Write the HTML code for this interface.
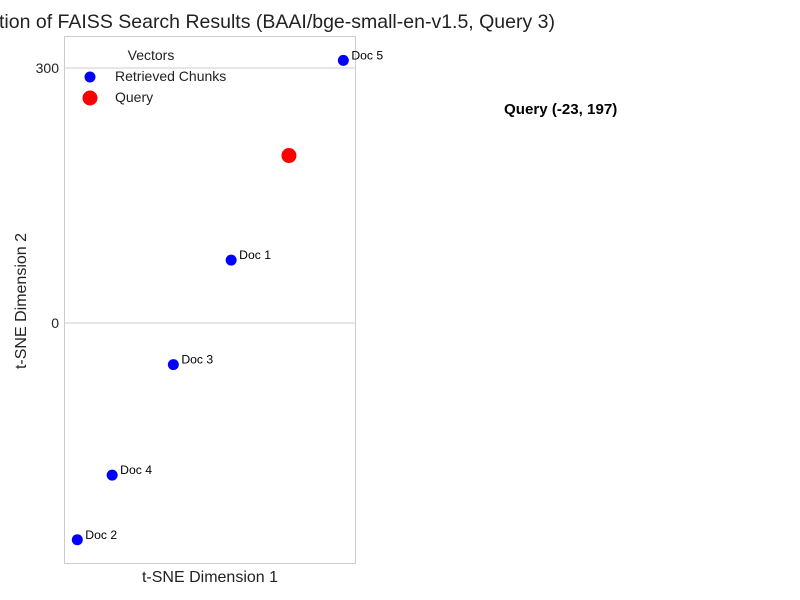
<!DOCTYPE html>
<html><head><meta charset="utf-8"><style>
body{margin:0;background:#fff;}
svg{font-family:"Liberation Sans",sans-serif;display:block;}
</style></head><body>
<svg width="800" height="600">
<rect width="800" height="600" fill="#fff"/>
<text x="555" y="28" text-anchor="end" font-size="19.5" fill="#222">Visualization of FAISS Search Results (BAAI/bge-small-en-v1.5, Query 3)</text>
<g id="grid"></g>
<rect x="64.5" y="36.5" width="291" height="527" fill="none" stroke="#ccc" stroke-width="1"/>
<g id="marks"></g>
<text x="210" y="582" text-anchor="middle" font-size="16" fill="#222">t-SNE Dimension 1</text>
<text transform="translate(26,301) rotate(-90)" text-anchor="middle" font-size="16" fill="#222">t-SNE Dimension 2</text>
<g>
<text x="151" y="60" text-anchor="middle" font-size="14" fill="#222">Vectors</text>
<circle cx="90" cy="77" r="5.5" fill="#0000ff"/>
<text x="115" y="81" font-size="14" fill="#222">Retrieved Chunks</text>
<circle cx="90" cy="98" r="7.5" fill="#ff0000"/>
<text x="115" y="102" font-size="14" fill="#222">Query</text>
</g>
<text x="504" y="114" font-size="15.1" font-weight="bold" fill="#000">Query (-23, 197)</text>
</svg>
<script>
const docLabels=["Doc 1","Doc 2","Doc 3","Doc 4","Doc 5"];
const docX=[-91,-272,-159,-231,41];
const docY=[74,-255,-49,-179,309];
const queryX=[-23];
const queryY=[197];
const yTicks=[0,300];
const NS="http://www.w3.org/2000/svg";
const xs=v=>308.5+v*0.85;
const ys=v=>323-v*0.85;
const grid=document.getElementById('grid'),marks=document.getElementById('marks');
yTicks.forEach(t=>{
 const l=document.createElementNS(NS,'line');
 l.setAttribute('x1',64);l.setAttribute('x2',356);l.setAttribute('y1',ys(t));l.setAttribute('y2',ys(t));
 l.setAttribute('stroke','#ccc');
 
 
 grid.appendChild(l);
 const tx=document.createElementNS(NS,'text');
 tx.setAttribute('x',59);tx.setAttribute('y',ys(t)+5);tx.setAttribute('text-anchor','end');
 tx.setAttribute('font-size','14');tx.setAttribute('fill','#222');tx.textContent=t;
 
 
 grid.appendChild(tx);
});
docX.forEach((x,i)=>{
 const c=document.createElementNS(NS,'circle');
 c.setAttribute('cx',xs(x));c.setAttribute('cy',ys(docY[i]));c.setAttribute('r',5.5);c.setAttribute('fill','#0000ff');
 
 
 marks.appendChild(c);
 const t=document.createElementNS(NS,'text');
 t.setAttribute('x',xs(x)+8);t.setAttribute('y',ys(docY[i])-1);t.setAttribute('font-size','12.2');t.setAttribute('fill','#000');
 t.textContent=docLabels[i];
 
 
 marks.appendChild(t);
});
queryX.forEach((x,i)=>{
 const c=document.createElementNS(NS,'circle');
 c.setAttribute('cx',xs(x));c.setAttribute('cy',ys(queryY[i]));c.setAttribute('r',7.5);c.setAttribute('fill','#ff0000');
 
 
 marks.appendChild(c);
});
</script>
</body></html>
